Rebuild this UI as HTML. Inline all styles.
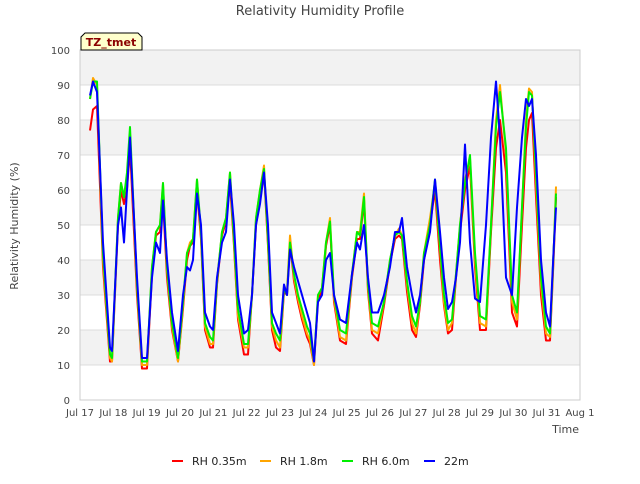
<!DOCTYPE html>
<html><head><meta charset="utf-8"><style>
body{margin:0;background:#fff;font-family:"DejaVu Sans","Liberation Sans",sans-serif;}
svg text{font-family:"DejaVu Sans","Liberation Sans",sans-serif;}
</style></head><body>
<svg id="chart" width="640" height="480" xmlns="http://www.w3.org/2000/svg">
<rect x="0" y="0" width="640" height="480" fill="#fff"/>
<g id="bands"></g>
<g id="grid"></g>
<rect x="80" y="50" width="500" height="350" fill="none" stroke="#ccc" stroke-width="1"/>
<g id="axes"></g>
<g id="series"></g>
<text x="320" y="15" text-anchor="middle" font-size="13" fill="#444">Relativity Humidity Profile</text>
<text transform="translate(18,226) rotate(-90)" text-anchor="middle" font-size="11" fill="#444">Relativity Humidity (%)</text>
<text x="579" y="433" text-anchor="end" font-size="11" fill="#444">Time</text>
<g>
<path d="M81,50 L81,37 L85,33 L138,33 L142,37 L142,50 Z" fill="#ffffcc" stroke="#000" stroke-width="1"/>
<text x="111" y="46" text-anchor="middle" font-size="11" font-weight="bold" fill="#8b0000">TZ_tmet</text>
</g>
<g id="legend"></g>
</svg>
<script>
const times=[.30,.39,.51,.69,.90,.96,1.14,1.23,1.32,1.41,
1.5,1.71,1.86,2.01,2.16,2.28,2.4,2.49,2.61,2.76,
2.94,3.09,3.21,3.3,3.39,3.51,3.63,3.75,3.9,3.99,
4.11,4.26,4.38,4.5,4.62,4.74,4.92,5.04,5.16,5.28,
5.4,5.52,5.64,5.76,5.88,6.0,6.12,6.21,6.3,6.42,
6.54,6.66,6.81,6.9,7.02,7.14,7.26,7.38,7.5,7.62,
7.8,7.98,8.16,8.31,8.4,8.52,8.64,8.76,8.94,9.12,
9.3,9.45,9.57,9.66,9.81,9.96,10.08,10.2,10.32,10.5,
10.65,10.8,10.92,11.04,11.16,11.28,11.4,11.55,11.7,11.85,
12.0,12.18,12.33,12.48,12.6,12.78,12.96,13.11,13.26,13.38,
13.47,13.56,13.68,13.83,13.98,14.1,14.22,14.28];
const rh035=[77,83,84,38,11,11,50,60,56,60,
72,30,9,9,36,47,48,57,35,20,
11,26,40,44,45,60,46,20,15,15,
33,47,51,62,44,23,13,13,30,50,
58,65,44,20,15,14,31,30,45,34,
28,23,18,16,10,29,31,44,50,28,
17,16,35,46,46,57,31,19,17,27,
39,46,47,46,31,20,18,27,40,50,
60,40,27,19,20,35,48,60,67,38,
20,20,48,72,80,65,25,21,50,72,
80,82,58,30,17,17,43,58];
const rh18=[86,92,90,40,12,11,52,62,58,64,
76,32,10,10,38,48,50,62,37,21,
11,27,42,45,46,63,47,21,16,16,
34,48,52,65,45,24,15,15,30,52,
60,67,45,21,17,15,32,31,47,35,
29,24,19,17,10,30,32,45,52,29,
18,17,36,48,48,59,32,20,19,28,
40,47,49,47,33,22,19,28,42,52,
62,43,28,20,22,36,50,63,69,40,
22,21,50,80,90,70,28,23,55,80,
89,88,62,33,19,18,45,61];
const rh60=[86,91,91,42,13,12,52,62,58,65,
78,33,11,11,38,48,50,62,38,22,
12,28,42,44,46,63,48,22,18,17,
34,48,52,65,46,26,16,16,30,52,
60,66,46,22,19,17,32,30,45,36,
30,26,21,19,11,30,32,45,51,30,
20,19,36,48,47,58,33,22,21,28,
40,47,48,47,34,24,21,28,42,50,
63,44,30,22,23,36,50,62,70,42,
24,23,50,78,88,72,30,25,55,78,
88,87,65,35,21,19,45,59];
const rh22=[87,91,88,45,15,14,50,55,45,60,
75,35,12,12,35,45,42,57,40,25,
14,30,38,37,40,59,50,25,21,20,
35,45,48,63,50,30,19,20,30,50,
56,65,50,25,22,19,33,30,43,38,
34,30,25,22,11,28,30,40,42,30,
23,22,36,45,43,50,35,25,25,30,
38,48,48,52,38,30,25,30,40,48,
63,48,35,26,28,35,45,73,45,29,
28,50,75,91,75,35,30,55,75,86,
84,86,70,40,25,21,45,55];
const xTickLabels=["Jul 17","Jul 18","Jul 19","Jul 20","Jul 21","Jul 22","Jul 23","Jul 24","Jul 25","Jul 26","Jul 27","Jul 28","Jul 29","Jul 30","Jul 31","Aug 1"];
const yTicks=[0,10,20,30,40,50,60,70,80,90,100];
const seriesNames=["RH 0.35m","RH 1.8m","RH 6.0m","22m"];
const seriesColors=["#ff0000","#ffa500","#00ee00","#0000ff"];

const NS="http://www.w3.org/2000/svg";
const X0=80,X1=580,Y0=400,Y1=50;
const xs=d=>X0+d*(X1-X0)/15;
const ys=v=>Y0-v*(Y0-Y1)/100;
function mk(tag,attrs,parent){const e=document.createElementNS(NS,tag);for(const k in attrs)e.setAttribute(k,attrs[k]);parent.appendChild(e);return e;}
const bands=document.getElementById('bands'),grid=document.getElementById('grid'),axes=document.getElementById('axes'),series=document.getElementById('series'),legend=document.getElementById('legend');
for(let i=0;i<10;i++){
  if(i%2===0){const r=mk('rect',{x:X0,y:ys(100-i*10),width:X1-X0,height:ys(90-i*10)-ys(100-i*10),fill:'#f2f2f2'},bands);
  
  }
}
yTicks.forEach(v=>{
  const l=mk('line',{x1:X0,x2:X1,y1:ys(v),y2:ys(v),stroke:'#dcdcdc','stroke-width':1},grid);
  
  
  const t=mk('text',{x:X0-10,y:ys(v)+4,'text-anchor':'end','font-size':10,fill:'#444'},axes);
  
  
  t.textContent=v;
});
xTickLabels.forEach((lab,i)=>{
  const t=mk('text',{x:xs(i),y:416,'text-anchor':'middle','font-size':10,fill:'#444'},axes);
  
  
  t.textContent=lab;
});
const data=[rh035,rh18,rh60,rh22];
data.forEach((arr,si)=>{
  const n=Math.min(arr.length,times.length);
  let d='';
  for(let i=0;i<n;i++)d+=(i?'L':'M')+xs(times[i]).toFixed(1)+','+ys(arr[i]).toFixed(1);
  const p=mk('path',{d:d,fill:'none',stroke:seriesColors[si],'stroke-width':2,'stroke-linejoin':'round'},series);
  
  
});
const lx=[172,260,342,424];
seriesNames.forEach((nm,i)=>{
  const g=mk('g',{},legend);
  
  
  mk('line',{x1:lx[i],x2:lx[i]+11,y1:461,y2:461,stroke:seriesColors[i],'stroke-width':2},g);
  const t=mk('text',{x:lx[i]+20,y:465,'font-size':11,fill:'#222'},g);
  t.textContent=nm;
});
</script>
</body></html>
